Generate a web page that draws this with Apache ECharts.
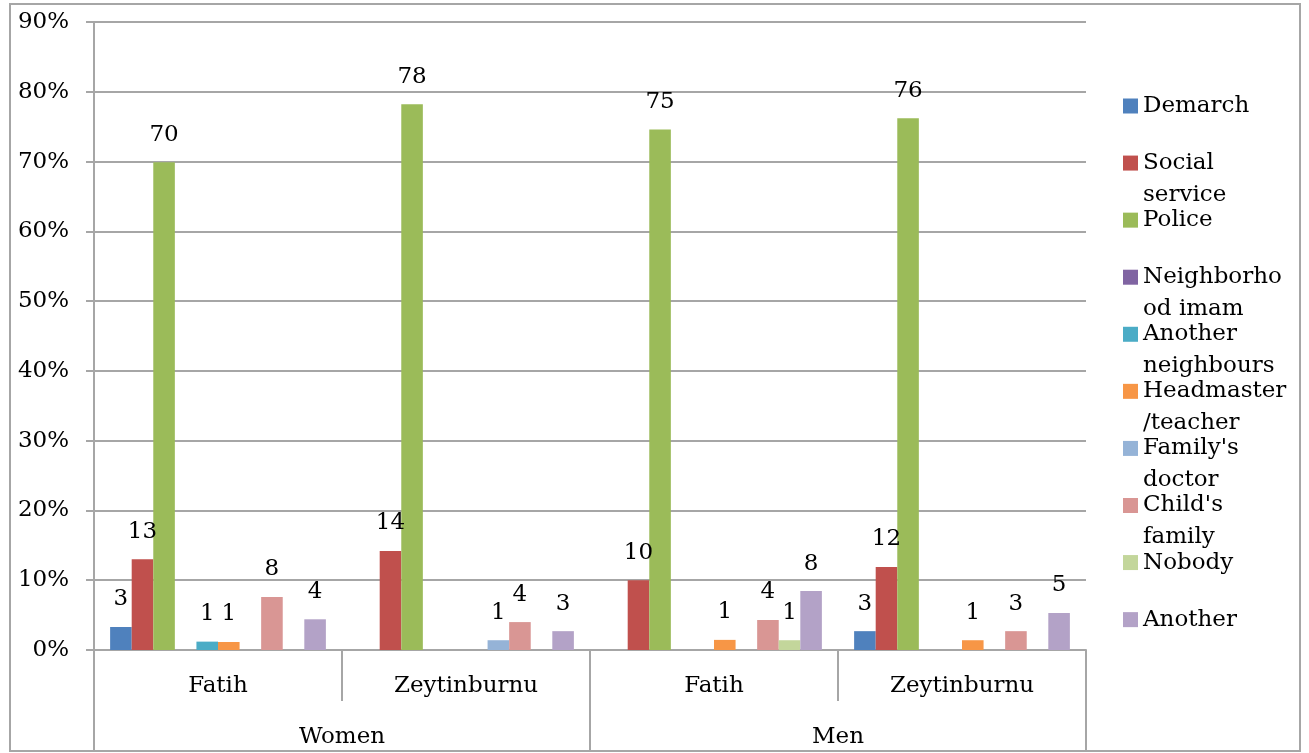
<!DOCTYPE html>
<html>
<head>
<meta charset="utf-8">
<script src="https://cdn.jsdelivr.net/npm/echarts@6/dist/echarts.min.js"></script>
<style>
  html, body { margin: 0; padding: 0; background: #fff; }
  #chart { width: 1309px; height: 753px; }
</style>
</head>
<body>
<div id="chart"></div>
<script>
// categories (two level axis)
const categories = ['Fatih', 'Zeytinburnu', 'Fatih', 'Zeytinburnu'];
const groups = ['Women', 'Men'];

// series, in legend order
const seriesNames = ['Demarch', 'Social service', 'Police', 'Neighborhood imam', 'Another neighbours',
  'Headmaster/teacher', "Family's doctor", "Child's family", 'Nobody', 'Another'];
const legendLines = ['Demarch', 'Social\nservice', 'Police', 'Neighborho\nod imam', 'Another\nneighbours',
  'Headmaster\n/teacher', "Family's\ndoctor", "Child's\nfamily", 'Nobody', 'Another'];
const colors = ['#4F81BD', '#C0504D', '#9BBB59', '#8064A2', '#4BACC6',
  '#F79646', '#95B3D7', '#D99694', '#C3D69B', '#B3A2C7'];

// values in % (Women Fatih, Women Zeytinburnu, Men Fatih, Men Zeytinburnu)
const demarch      = [3.3, 0, 0, 2.7];
const socialSvc    = [13.0, 14.2, 10.0, 11.9];
const police       = [69.9, 78.2, 74.6, 76.2];
const imam         = [0, 0, 0, 0];
const neighbours   = [1.2, 0, 0, 0];
const headmaster   = [1.15, 0, 1.45, 1.4];
const doctor       = [0, 1.4, 0, 0];
const childFamily  = [7.6, 4.0, 4.3, 2.7];
const nobody       = [0, 0, 1.4, 0];
const another      = [4.4, 2.7, 8.45, 5.3];
const values = [demarch, socialSvc, police, imam, neighbours, headmaster, doctor, childFamily, nobody, another];

const font = 'DejaVu Serif';
const gray = '#A6A6A6';
const fontSize = 23;

const chart = echarts.init(document.getElementById('chart'));

// one legend per item so the wrapped names keep an even step;
// wrapped names get an empty first line so their first line sits on the square
const legendTop = 106, legendStep = 57.07, lineH = 32;
const legends = seriesNames.map((name, i) => {
  const twoLines = legendLines[i].indexOf('\n') >= 0;
  const center = legendTop + legendStep * i;
  return {
    data: [name],
    orient: 'vertical',
    left: 1123,
    top: center - (twoLines ? lineH * 1.5 : lineH / 2),
    padding: 0,
    itemWidth: 15,
    itemHeight: 15,
    icon: 'rect',
    selectedMode: false,
    formatter: () => (twoLines ? ' \n' : '') + legendLines[i],
    textStyle: { fontFamily: font, fontSize: fontSize, color: '#000', lineHeight: lineH }
  };
});

const option = {
  animation: false,
  backgroundColor: '#fff',
  grid: { left: 94, right: 223, top: 22, bottom: 103, containLabel: false },
  legend: legends,
  xAxis: [
    {
      type: 'category',
      data: categories,
      position: 'bottom',
      axisLine: { show: true, lineStyle: { color: gray, width: 2 } },
      axisTick: { show: true, interval: 0, length: 51, lineStyle: { color: gray, width: 2 } },
      axisLabel: { interval: 0, margin: 25, fontFamily: font, fontSize: fontSize, color: '#000' }
    },
    {
      type: 'category',
      data: groups,
      position: 'bottom',
      axisLine: { show: false },
      axisTick: { show: true, interval: 0, length: 101, lineStyle: { color: gray, width: 2 } },
      axisLabel: { interval: 0, margin: 76, fontFamily: font, fontSize: fontSize, color: '#000' }
    }
  ],
  yAxis: {
    type: 'value',
    min: 0,
    max: 90,
    interval: 10,
    axisLine: { show: true, lineStyle: { color: gray, width: 2 } },
    axisTick: { show: true, length: 8, lineStyle: { color: gray, width: 2 } },
    splitLine: { show: true, lineStyle: { color: gray, width: 2 } },
    axisLabel: { formatter: '{value}%', margin: 25, padding: [4, 0, 0, 0], fontFamily: font, fontSize: fontSize, color: '#000' }
  },
  series: seriesNames.map((name, i) => ({
    name: name,
    type: 'bar',
    xAxisIndex: 0,
    data: values[i],
    barGap: '0%',
    barCategoryGap: '13%',
    itemStyle: { color: colors[i] },
    emphasis: { disabled: true },
    label: {
      show: true,
      position: 'top',
      distance: 16,
      fontFamily: font,
      fontSize: fontSize,
      color: '#000',
      formatter: p => (p.value > 0 ? String(Math.round(p.value)) : '')
    }
  })),
  graphic: [{
    type: 'rect',
    silent: true,
    z: -1,
    shape: { x: 10, y: 4, width: 1290, height: 747 },
    style: { fill: 'none', stroke: gray, lineWidth: 2 }
  }]
};

chart.setOption(option);
</script>
</body>
</html>
